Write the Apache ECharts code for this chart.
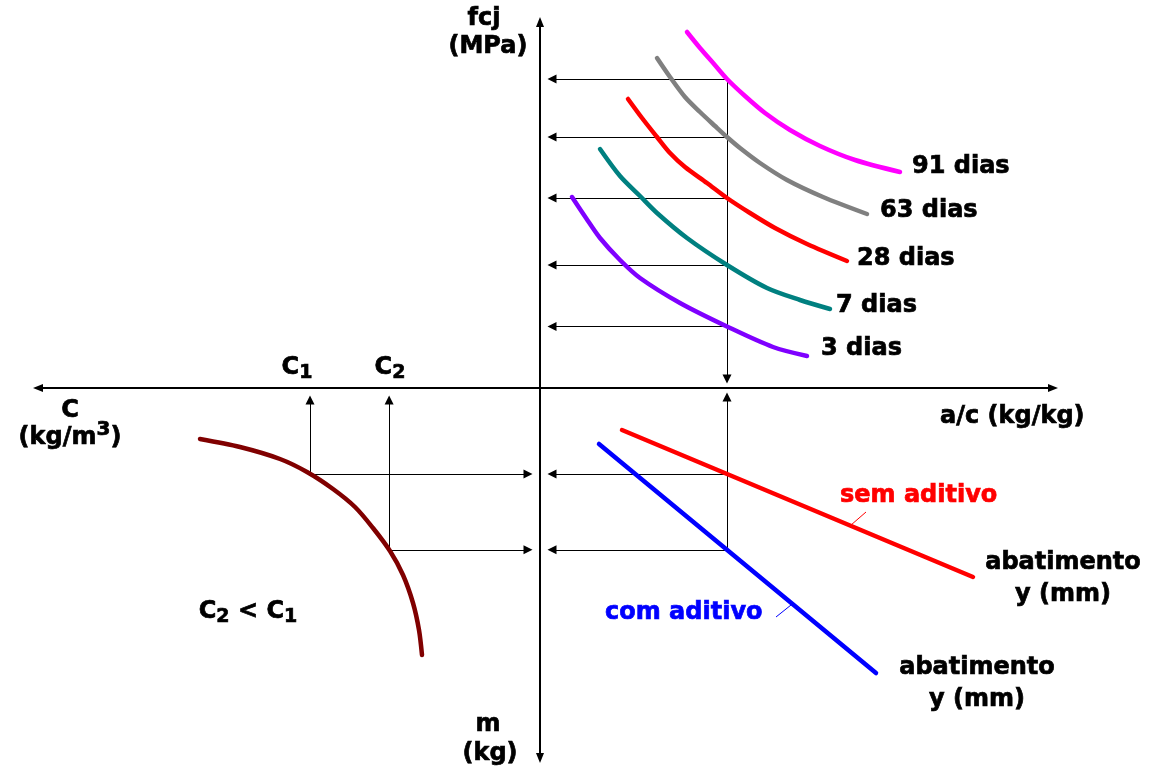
<!DOCTYPE html>
<html>
<head>
<meta charset="utf-8">
<title>Diagrama de dosagem</title>
<script src="https://cdn.jsdelivr.net/npm/echarts@6/dist/echarts.min.js"></script>
<style>
  html, body { margin: 0; padding: 0; background: #ffffff; }
  #chart { width: 1162px; height: 767px; }
</style>
</head>
<body>
<div id="chart"></div>
<script>
// Quadrant I: fcj (MPa, up) versus a/c (kg/kg, right), one curve per age
const ages = ['91 dias', '63 dias', '28 dias', '7 dias', '3 dias'];
const fcj91 = [[147, 356], [160, 340], [174, 324], [187, 309], [205, 292], [225, 275], [250, 258], [280, 242], [315, 228], [360, 216]];
const fcj63 = [[117, 330], [130, 311], [145, 291], [160, 276], [175, 262], [187, 251], [200, 240], [220, 225], [247, 208], [283, 191], [327, 174]];
const fcj28 = [[88, 289], [102, 270], [117, 251], [130, 235], [145, 221], [167, 205], [187, 190], [210, 175], [235, 160], [267, 144], [307, 127]];
const fcj7  = [[60, 239], [80, 212], [100, 192], [117, 175], [147, 150], [187, 123], [227, 100], [260, 88], [290, 79]];
const fcj3  = [[32, 191], [46, 170], [60, 150], [80, 128], [100, 110], [140, 85], [188, 61], [233, 41], [267, 32]];

// Quadrant IV: m (kg, down) versus a/c, for a given slump
const semAditivo = [[82, -42], [433, -189]];
const comAditivo = [[59, -56], [336, -285]];

// Quadrant III: cement content C (kg/m3, left) versus m
const consumo = [[-340, -51], [-300, -59], [-260, -71], [-233, -84], [-207, -101], [-185, -119], [-167, -140], [-150, -163], [-137, -187], [-127, -215], [-121, -242], [-118, -267]];

// a/c value read across the diagram
const acLeitura = 187;

const FONT = 'DejaVu Sans';
const ageStyle = {
  '91 dias': { color: '#ff00ff', dist: 12, dy: -5 },
  '63 dias': { color: '#808080', dist: 13, dy: -3 },
  '28 dias': { color: '#ff0000', dist: 10, dy: -2 },
  '7 dias':  { color: '#008080', dist: 6,  dy: -3 },
  '3 dias':  { color: '#7f00ff', dist: 14, dy: -7 }
};
const ageData = { '91 dias': fcj91, '63 dias': fcj63, '28 dias': fcj28, '7 dias': fcj7, '3 dias': fcj3 };

// linear reading of y on a polyline at a given x
function yAt(pts, x) {
  for (let i = 0; i < pts.length - 1; i++) {
    const [x0, y0] = pts[i], [x1, y1] = pts[i + 1];
    if ((x - x0) * (x - x1) <= 0) return y0 + (y1 - y0) * (x - x0) / (x1 - x0);
  }
  return pts[pts.length - 1][1];
}
// linear reading of x on a polyline at a given y
function xAt(pts, y) {
  for (let i = 0; i < pts.length - 1; i++) {
    const [x0, y0] = pts[i], [x1, y1] = pts[i + 1];
    if ((y - y0) * (y - y1) <= 0) return x0 + (x1 - x0) * (y - y0) / (y1 - y0);
  }
  return pts[pts.length - 1][0];
}

// heavy bold lettering
const labelFont = { fontFamily: FONT, fontWeight: 'bold', fontSize: 24, color: '#000', textBorderColor: '#000', textBorderWidth: 0.7 };
const LW = 4.5;

const series = [];

// age curves, each named at its right end
ages.forEach(name => {
  const st = ageStyle[name];
  series.push({
    name, type: 'line', smooth: 0.3, showSymbol: false, z: 5,
    lineStyle: { color: st.color, width: LW, cap: 'round', join: 'round' }, itemStyle: { color: st.color },
    endLabel: Object.assign({ show: true, distance: st.dist, offset: [0, st.dy], formatter: '{a}' }, labelFont),
    data: ageData[name]
  });
});

// slump lines
const slumpLabel = Object.assign({ show: true, formatter: 'abatimento\ny (mm)', distance: 0, align: 'center', verticalAlign: 'middle', lineHeight: 32 }, labelFont);
series.push({
  name: 'sem aditivo', type: 'line', showSymbol: false, z: 5,
  lineStyle: { color: '#ff0000', width: LW, cap: 'round' }, itemStyle: { color: '#ff0000' },
  endLabel: Object.assign({}, slumpLabel, { offset: [90, 2] }),
  data: semAditivo
});
series.push({
  name: 'com aditivo', type: 'line', showSymbol: false, z: 5,
  lineStyle: { color: '#0000ff', width: LW, cap: 'round' }, itemStyle: { color: '#0000ff' },
  endLabel: Object.assign({}, slumpLabel, { offset: [101, 11] }),
  data: comAditivo
});

// cement consumption curve
series.push({
  name: 'C', type: 'line', smooth: 0.3, showSymbol: false, z: 5,
  lineStyle: { color: '#800000', width: LW, cap: 'round', join: 'round' }, itemStyle: { color: '#800000' },
  data: consumo
});

// reading guides with arrow heads
const tip = 4;
const fcjLidos = ages.map(a => yAt(ageData[a], acLeitura));
const mLidos = [yAt(semAditivo, acLeitura), yAt(comAditivo, acLeitura)];
const cLidos = mLidos.map(m => xAt(consumo, m));
const guideArrows = [];
fcjLidos.forEach(f => guideArrows.push({ coords: [[acLeitura, f], [8 + tip, f]] }));
guideArrows.push({ coords: [[acLeitura, Math.max(...fcjLidos)], [acLeitura, 5 + tip]] });
mLidos.forEach(m => guideArrows.push({ coords: [[acLeitura, m], [8 + tip, m]] }));
guideArrows.push({ coords: [[acLeitura, Math.min(...mLidos)], [acLeitura, -5 - tip]] });
mLidos.forEach((m, i) => {
  guideArrows.push({ coords: [[cLidos[i], m], [-8 - tip, m]] });
  guideArrows.push({ coords: [[cLidos[i], m], [cLidos[i], -8 - tip]] });
});
series.push({
  name: 'guias', type: 'lines', coordinateSystem: 'cartesian2d', z: 2,
  symbol: ['none', 'triangle'], symbolSize: [7, 9],
  lineStyle: { color: '#000', width: 1, opacity: 1, curveness: 0 },
  silent: true,
  data: guideArrows
});

function txt(x, y, text, extra) {
  const fill = (extra && extra.fill) || '#000';
  return {
    type: 'text', x, y, silent: true,
    style: Object.assign({
      text, fill, font: 'bold 24px "' + FONT + '"',
      align: 'center', verticalAlign: 'middle',
      stroke: fill, lineWidth: 0.7
    }, extra || {})
  };
}
const heavy = { stroke: '#000', lineWidth: 0.7 };
const richIdx = {
  c: Object.assign({ fontFamily: FONT, fontWeight: 'bold', fontSize: 24, fill: '#000', verticalAlign: 'top', lineHeight: 24 }, heavy),
  s: Object.assign({ fontFamily: FONT, fontWeight: 'bold', fontSize: 19, fill: '#000', padding: [10, 0, 0, 0], lineHeight: 20 }, heavy),
  n: Object.assign({ fontFamily: FONT, fontWeight: 'bold', fontSize: 24, fill: '#000', lineHeight: 24, verticalAlign: 'bottom' }, heavy),
  p: Object.assign({ fontFamily: FONT, fontWeight: 'bold', fontSize: 20, fill: '#000', padding: [0, 0, 10, 0], lineHeight: 20, verticalAlign: 'bottom' }, heavy)
};
function richTxt(x, y, text) {
  return { type: 'text', x, y, silent: true, style: { text, rich: richIdx, align: 'center', verticalAlign: 'middle' } };
}

const option = {
  animation: false,
  backgroundColor: '#ffffff',
  grid: { left: 38, right: 109, top: 22, bottom: 9 },
  xAxis: {
    type: 'value', min: -502, max: 513,
    axisLine: { show: true, onZero: true, symbol: ['triangle', 'triangle'], symbolSize: [8, 10], lineStyle: { color: '#000', width: 2 } },
    axisTick: { show: false }, axisLabel: { show: false }, splitLine: { show: false }
  },
  yAxis: {
    type: 'value', min: -370, max: 366,
    axisLine: { show: true, onZero: true, symbol: ['triangle', 'triangle'], symbolSize: [8, 10], lineStyle: { color: '#000', width: 2 } },
    axisTick: { show: false }, axisLabel: { show: false }, splitLine: { show: false }
  },
  series,
  graphic: [
    txt(484, 19, 'fcj'),
    txt(488, 47, '(MPa)'),
    txt(488, 725, 'm'),
    txt(490, 754, '(kg)'),
    txt(70, 411, 'C'),
    richTxt(70, 438, '{n|(kg/m}{p|3}{n|)}'),
    richTxt(297, 368, '{c|C}{s|1}'),
    richTxt(390, 368, '{c|C}{s|2}'),
    richTxt(248, 612, '{c|C}{s|2}{c| < C}{s|1}'),
    txt(940, 417, 'a/c (kg/kg)', { align: 'left' }),
    txt(840, 496, 'sem aditivo', { align: 'left', fill: '#ff0000' }),
    txt(605, 613, 'com aditivo', { align: 'left', fill: '#0000ff' }),
    { type: 'line', silent: true, shape: { x1: 866, y1: 512, x2: 851, y2: 525 }, style: { stroke: '#ff0000', lineWidth: 1 } },
    { type: 'line', silent: true, shape: { x1: 776, y1: 617, x2: 791, y2: 605 }, style: { stroke: '#0000ff', lineWidth: 1 } }
  ]
};

const chart = echarts.init(document.getElementById('chart'), null, { renderer: 'canvas' });
chart.setOption(option);
</script>
</body>
</html>
